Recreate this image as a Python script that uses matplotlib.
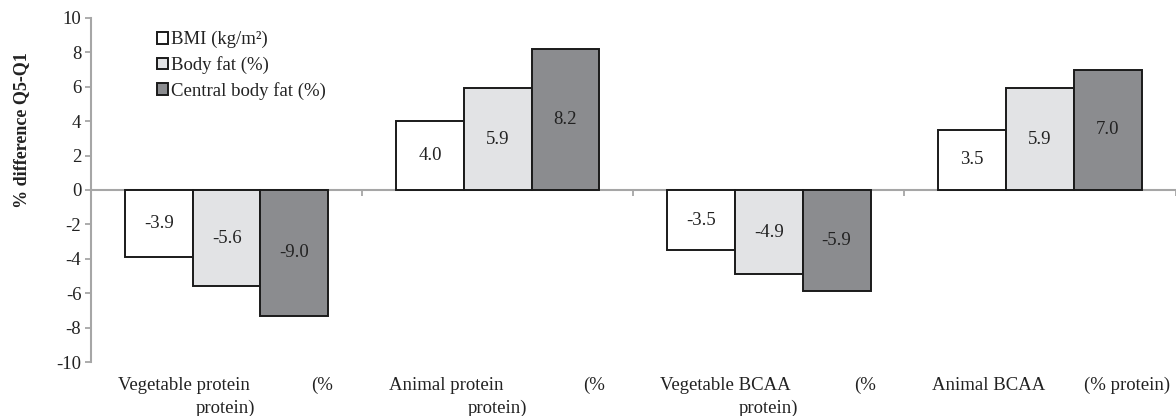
import matplotlib
matplotlib.use("Agg")
import matplotlib.pyplot as plt
import numpy as np

plt.rcParams['font.family'] = ['Liberation Serif', 'DejaVu Serif']

categories = ["Vegetable protein", "Animal protein", "Vegetable BCAA", "Animal BCAA"]
cat_right = ["(%", "(%", "(%", "(% protein)"]
cat_line2 = ["protein)", "protein)", "protein)", ""]
series = ["BMI (kg/m²)", "Body fat (%)", "Central body fat (%)"]
bmi = [-3.9, 4.0, -3.5, 3.5]
body_fat = [-5.6, 5.9, -4.9, 5.9]
central_fat = [-7.3, 8.2, -5.9, 7.0]
bmi_labels = ["-3.9", "4.0", "-3.5", "3.5"]
body_fat_labels = ["-5.6", "5.9", "-4.9", "5.9"]
central_fat_labels = ["-9.0", "8.2", "-5.9", "7.0"]
yticks = [-10, -8, -6, -4, -2, 0, 2, 4, 6, 8, 10]

colors = ["#ffffff", "#e2e3e5", "#8b8c8f"]
values = [bmi, body_fat, central_fat]
labels = [bmi_labels, body_fat_labels, central_fat_labels]
FS = 13.5
TC = "#222222"

fig = plt.figure(figsize=(11.76, 4.16), dpi=100)
ax = fig.add_axes([0.0774, 0.1298, 0.9222, 0.827])

x = np.arange(len(categories))
w = 0.25
for i, (vals, labs) in enumerate(zip(values, labels)):
    pos = x + (i - 1) * w
    ax.bar(pos, vals, width=w, color=colors[i], edgecolor="#1a1a1a",
           linewidth=1.4, label=series[i], zorder=3)
    for xp, v, t in zip(pos, vals, labs):
        ax.text(xp, v / 2, t, ha="center", va="center", fontsize=FS,
                color=TC, zorder=4)

ax.set_xlim(-0.5, 3.5)
ax.set_ylim(-10, 10)
ax.set_yticks(yticks)
ax.set_yticklabels([str(t) for t in yticks], fontsize=FS, color=TC)

for s in ["top", "right"]:
    ax.spines[s].set_visible(False)
ax.spines["bottom"].set_position(("data", 0))
ax.spines["bottom"].set_color("#a6a6a6")
ax.spines["bottom"].set_linewidth(1.5)
ax.spines["left"].set_color("#a6a6a6")
ax.spines["left"].set_linewidth(1.5)
ax.spines["bottom"].set_zorder(2)

ax.set_xticks([0.5, 1.5, 2.5, 3.5])
ax.set_xticklabels([])
ax.tick_params(axis="x", direction="out", length=4, color="#a6a6a6", width=1.3)
ax.tick_params(axis="y", direction="out", length=4, color="#a6a6a6", width=1.3, pad=3)

ax.set_ylabel("% difference Q5-Q1", fontsize=13, fontweight="bold", color=TC)
ax.yaxis.set_label_coords(-0.056, 0.675)

trans = ax.get_xaxis_transform()
for i in range(len(categories)):
    ax.text(i - 0.40, -0.067, categories[i], transform=trans, ha="left", va="center",
            fontsize=FS, color=TC)
    rx = 0.394 if i < 3 else 0.48
    ax.text(i + rx, -0.067, cat_right[i], transform=trans, ha="right", va="center",
            fontsize=FS, color=TC)
    if cat_line2[i]:
        ax.text(i + 0.107, -0.134, cat_line2[i], transform=trans, ha="right", va="center",
                fontsize=FS, color=TC)

leg = ax.legend(loc="upper left", bbox_to_anchor=(0.061, 0.962), frameon=False,
                fontsize=FS, handlelength=0.6, handleheight=0.6,
                handletextpad=0.15, labelspacing=0.42, borderaxespad=0, borderpad=0)
for t in leg.get_texts():
    t.set_color(TC)

fig.savefig("out.png", dpi=100)
